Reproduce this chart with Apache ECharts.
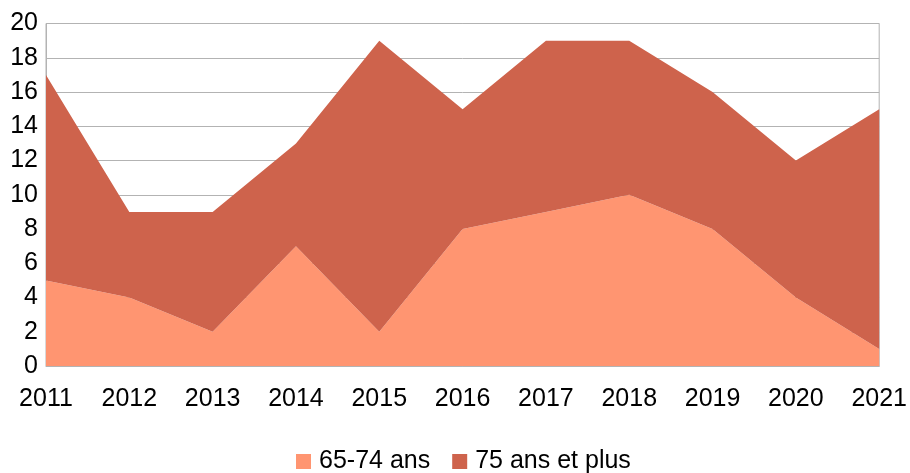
<!DOCTYPE html>
<html><head><meta charset="utf-8">
<script src="https://cdn.jsdelivr.net/npm/echarts@6/dist/echarts.min.js"></script>
<style>html,body{margin:0;padding:0;background:#fff}#c{width:910px;height:473px}</style>
</head><body><div id="c"></div>
<script>
const years = ['2011','2012','2013','2014','2015','2016','2017','2018','2019','2020','2021'];
const s6574 = [5,4,2,7,2,8,9,10,8,4,1];
const s75plus = [12,5,7,6,17,7,10,9,8,8,14];
const names = ['65-74 ans','75 ans et plus'];
const colors = ['#ff9571','#ce634c'];
const chart = echarts.init(document.getElementById('c'), null, {renderer:'canvas'});
const font = 'Liberation Sans';
chart.setOption({
  animation:false,
  color:colors,
  grid:{left:46,right:27,top:23.5,bottom:107,show:true,borderColor:'#b3b3b3',borderWidth:1,containLabel:false},
  legend:{bottom:-6,left:291,itemWidth:15,itemHeight:15,itemGap:22,icon:'rect',
    textStyle:{fontFamily:font,fontSize:25,color:'#000',padding:[0,0,0,3]},data:names},
  xAxis:{type:'category',boundaryGap:false,data:years,
    axisLine:{lineStyle:{color:'#b3b3b3'}},axisTick:{show:false},
    axisLabel:{fontFamily:font,fontSize:25,color:'#000',margin:21}},
  yAxis:{type:'value',min:0,max:20,interval:2,
    axisLine:{show:true,lineStyle:{color:'#b3b3b3'}},axisTick:{show:false},
    splitLine:{lineStyle:{color:'#b3b3b3'}},
    axisLabel:{fontFamily:font,fontSize:25,color:'#000',margin:8}},
  series:[
    {name:names[0],type:'line',stack:'t',data:s6574,symbol:'none',lineStyle:{width:0},areaStyle:{color:colors[0],opacity:1}},
    {name:names[1],type:'line',stack:'t',data:s75plus,symbol:'none',lineStyle:{width:0},areaStyle:{color:colors[1],opacity:1}}
  ]
});
</script></body></html>
